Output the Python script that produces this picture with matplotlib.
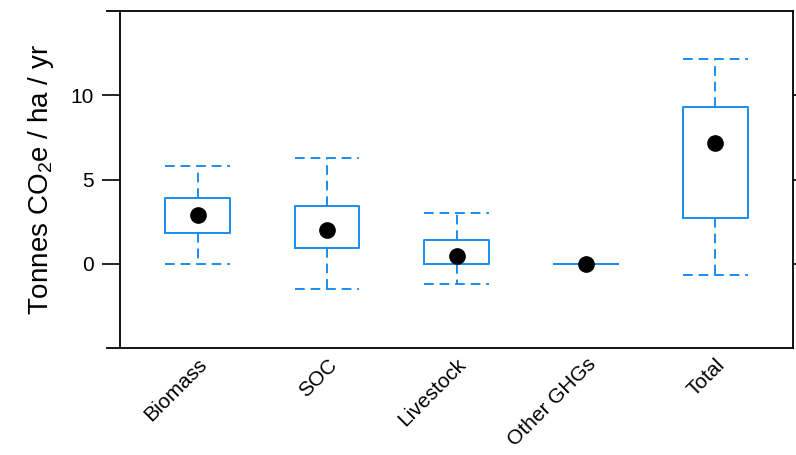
import matplotlib
matplotlib.use("Agg")
import matplotlib.pyplot as plt
from matplotlib.lines import Line2D

plt.rcParams['font.family'] = ['Liberation Sans', 'DejaVu Sans']
plt.rcParams['mathtext.default'] = 'regular'

categories = ["Biomass", "SOC", "Livestock", "Other GHGs", "Total"]
whisker_low = [0.0, -1.5, -1.2, 0.0, -0.65]
box_low = [1.8, 0.95, 0.0, 0.0, 2.7]
box_high = [3.9, 3.4, 1.4, 0.0, 9.3]
whisker_high = [5.8, 6.3, 3.0, 0.0, 12.15]
means = [2.9, 2.0, 0.45, 0.0, 7.15]
yticks = [0, 5, 10]

blue = "#1a8cf0"

fig = plt.figure(figsize=(7.96, 4.55), dpi=100)
ax = fig.add_axes([120/796, 1-348/455, (793-120)/796, (348-11)/455])

stats = []
for name, wl, q1, q3, wh, m in zip(categories, whisker_low, box_low, box_high, whisker_high, means):
    stats.append(dict(label=name, whislo=wl, q1=q1, med=m, q3=q3, whishi=wh, fliers=[]))

pos = list(range(1, len(categories) + 1))
ax.bxp(stats, positions=pos, widths=0.5, capwidths=0.5, showfliers=False,
       boxprops=dict(color=blue, linewidth=1.4),
       whiskerprops=dict(color=blue, linewidth=1.4, linestyle=(0, (5, 3))),
       capprops=dict(color=blue, linewidth=1.4, linestyle=(0, (5, 3))),
       medianprops=dict(linewidth=0))
ax.plot(pos, means, 'o', color='black', markersize=11, zorder=5)

ax.set_xlim(0.4, 5.6)
ax.set_ylim(-5, 15)
ax.set_yticks(yticks)
ax.set_xticks(pos)
ax.set_xticklabels(categories, rotation=45, ha='right', rotation_mode='anchor', fontsize=15)
ax.tick_params(axis='x', length=0, pad=5)
ax.tick_params(axis='y', which='both', direction='out', length=13, width=1.2,
               labelsize=15, right=True, pad=6)
ax.set_ylabel(r"Tonnes CO$_2$e / ha / yr", fontsize=20, labelpad=10)
for s in ax.spines.values():
    s.set_linewidth(1.3)

# extend top and bottom frame lines to the left as in the reference
for yy in (11, 348):
    fig.add_artist(Line2D([107/796, 120/796], [1-yy/455, 1-yy/455],
                          transform=fig.transFigure, color='black', linewidth=1.3))

fig.savefig("out.png", dpi=100)
